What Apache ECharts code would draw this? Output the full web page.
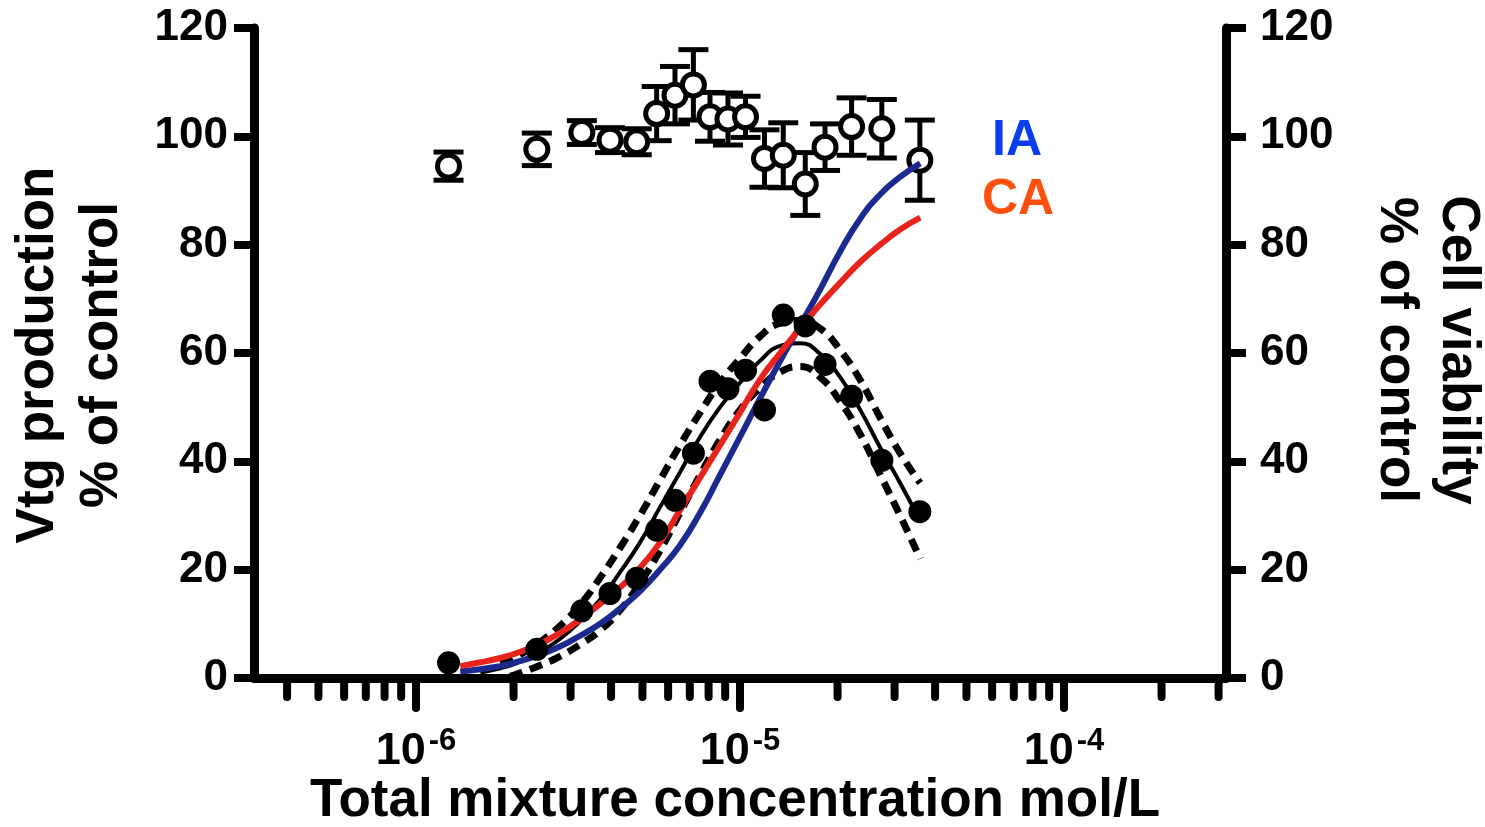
<!DOCTYPE html>
<html><head><meta charset="utf-8">
<script src="https://cdn.jsdelivr.net/npm/echarts@6/dist/echarts.min.js"></script>
<style>html,body{margin:0;padding:0;background:#fff}#c{width:1485px;height:827px}</style>
</head><body><div id="c"></div>
<script>
const FONT = '"Liberation Sans", Arial, Helvetica, sans-serif';

// measured concentrations (mol/L)
const mixConc = [1.26e-6, 2.36e-6, 3.25e-6, 3.97e-6, 4.80e-6, 5.53e-6, 6.30e-6, 7.18e-6, 8.08e-6,
                 9.18e-6, 1.04e-5, 1.19e-5, 1.36e-5, 1.59e-5, 1.83e-5, 2.21e-5, 2.74e-5, 3.59e-5];
// cell viability (open circles, right axis)
const viabMean = [94.5, 97.6, 100.7, 99.3, 99.0, 104.2, 107.6, 109.5, 103.6, 103.2, 103.6, 95.9, 96.5, 91.2, 98.0, 101.8, 101.4, 95.6];
const viabErr  = [2.6, 3.0, 2.2, 2.3, 2.4, 5.0, 5.3, 6.5, 4.5, 4.8, 3.8, 5.3, 6.0, 5.8, 4.3, 5.3, 5.4, 7.4];
// Vtg production (filled circles, left axis)
const vtgMean  = [2.8, 5.3, 12.4, 15.6, 18.4, 27.3, 32.8, 41.5, 54.8, 53.4, 56.8, 49.5, 67.0, 65.0, 57.9, 52.0, 40.2, 30.7];

// curves sampled along concentration
const curveConc = [1.37e-6, 1.58e-6, 1.82e-6, 1.95e-6, 2.09e-6, 2.41e-6, 2.78e-6, 3.21e-6, 3.70e-6, 4.26e-6,
                   4.91e-6, 5.66e-6, 6.53e-6, 7.53e-6, 8.68e-6, 1.00e-5, 1.15e-5, 1.33e-5, 1.53e-5, 1.77e-5,
                   2.04e-5, 2.35e-5, 2.71e-5, 3.12e-5, 3.60e-5];
const iaCurve  = [1.2, 1.6, 2.2, 2.6, 3.1, 4.3, 5.8, 7.8, 10.0, 12.8, 16.0, 20.0, 24.5, 30.5, 37.5, 44.5, 51.5, 58.5, 65.0, 71.8, 78.8, 84.8, 89.3, 92.5, 95.0];
const caCurve  = [2.2, 2.9, 3.7, 4.2, 4.8, 6.3, 8.3, 10.8, 13.7, 16.7, 20.3, 25.0, 31.0, 37.0, 43.0, 49.0, 55.0, 60.0, 64.5, 69.0, 73.0, 76.8, 80.0, 82.8, 85.0];
const fitCurve = [null, 1.0, 1.8, 2.3, 3.0, 4.8, 7.2, 10.5, 14.5, 19.5, 25.0, 31.5, 38.0, 44.5, 50.0, 54.5, 58.5, 61.3, 61.8, 59.8, 55.5, 49.5, 42.5, 36.0, 29.0];
const fitUpper = [null, null, 2.8, 3.5, 4.3, 6.6, 9.6, 13.5, 18.5, 24.0, 30.0, 36.5, 43.0, 49.0, 54.5, 59.0, 63.0, 65.5, 66.0, 64.5, 60.5, 55.0, 48.0, 41.5, 36.0];
const fitLower = [null, null, null, 0.3, 0.9, 2.3, 4.0, 6.2, 8.8, 12.5, 17.5, 23.5, 30.5, 37.5, 44.0, 49.5, 53.5, 56.5, 57.5, 55.5, 51.0, 45.0, 37.5, 30.0, 22.0];

// x axis ticks
const xMajorTicks = [1e-6, 1e-5, 1e-4];
const xMinorTicks = [4e-7, 5e-7, 6e-7, 7e-7, 8e-7, 9e-7,
                     2e-6, 3e-6, 4e-6, 5e-6, 6e-6, 7e-6, 8e-6, 9e-6,
                     2e-5, 3e-5, 4e-5, 5e-5, 6e-5, 7e-5, 8e-5, 9e-5,
                     2e-4, 3e-4];
const yTicks = [0, 20, 40, 60, 80, 100, 120];

const pair = (xs, ys) => xs.map((x, i) => [x, ys[i]]).filter(d => d[1] != null);

const chart = echarts.init(document.getElementById('c'), null, {renderer: 'canvas'});
const labelFont = {fontFamily: FONT, fontWeight: 'bold', color: '#000', fontSize: 44};
const yAxisBase = {
  type: 'value', min: yTicks[0], max: yTicks[yTicks.length - 1], interval: 20,
  axisLine: {show: true, onZero: false, lineStyle: {color: '#000', width: 9}},
  axisTick: {show: true, length: 20, lineStyle: {color: '#000', width: 8}},
  splitLine: {show: false}
};
const tickData = xMinorTicks.map(v => [v, 0, 0]).concat(xMajorTicks.map(v => [v, 0, 1]));
const dashStyle = {color: '#000', width: 7, type: [13, 8], cap: 'butt'};

chart.setOption({
  backgroundColor: '#fff',
  animation: false,
  grid: {left: 254, right: 259, top: 28, bottom: 149, containLabel: false},
  xAxis: {
    type: 'log', logBase: 10, min: Math.pow(10, -6.5), max: Math.pow(10, -3.5),
    axisLine: {show: true, onZero: false, lineStyle: {color: '#000', width: 9}},
    axisTick: {show: false}, minorTick: {show: false}, splitLine: {show: false},
    axisLabel: {
      margin: 48, showMinLabel: false, showMaxLabel: false,
      formatter: v => {
        const e = Math.log10(v), r = Math.round(e);
        if (Math.abs(e - r) > 1e-6) return '';
        return '{b|10}{s|' + r + '}';
      },
      rich: {
        b: {fontFamily: FONT, fontWeight: 'bold', color: '#000', fontSize: 45, lineHeight: 48, verticalAlign: 'bottom'},
        s: {fontFamily: FONT, fontWeight: 'bold', color: '#000', fontSize: 31, lineHeight: 32, verticalAlign: 'top', padding: [0, 0, 0, 3]}
      }
    }
  },
  yAxis: [
    Object.assign({}, yAxisBase, {position: 'left', axisLabel: Object.assign({margin: 26}, labelFont)}),
    Object.assign({}, yAxisBase, {position: 'right', axisLabel: Object.assign({margin: 34}, labelFont)})
  ],
  graphic: [
    {type: 'text', x: 38, y: 355, rotation: Math.PI / 2,
     style: {text: 'Vtg production', font: 'bold 53px ' + FONT, fill: '#000', align: 'center', verticalAlign: 'middle', textAlign: 'center', textVerticalAlign: 'middle'}},
    {type: 'text', x: 102, y: 355, rotation: Math.PI / 2,
     style: {text: '% of control', font: 'bold 53px ' + FONT, fill: '#000', align: 'center', verticalAlign: 'middle', textAlign: 'center', textVerticalAlign: 'middle'}},
    {type: 'text', x: 1458, y: 350, rotation: -Math.PI / 2,
     style: {text: 'Cell viability', font: 'bold 53px ' + FONT, fill: '#000', align: 'center', verticalAlign: 'middle', textAlign: 'center', textVerticalAlign: 'middle'}},
    {type: 'text', x: 1396, y: 350, rotation: -Math.PI / 2,
     style: {text: '% of control', font: 'bold 53px ' + FONT, fill: '#000', align: 'center', verticalAlign: 'middle', textAlign: 'center', textVerticalAlign: 'middle'}},
    {type: 'text', x: 735, y: 801,
     style: {text: 'Total mixture concentration mol/L', font: 'bold 53px ' + FONT, fill: '#000', align: 'center', verticalAlign: 'middle', textAlign: 'center', textVerticalAlign: 'middle'}},
    {type: 'text', x: 992, y: 141,
     style: {text: 'IA', font: 'bold 50px ' + FONT, fill: '#0a3cf0', align: 'left', verticalAlign: 'middle', textAlign: 'left', textVerticalAlign: 'middle'}},
    {type: 'text', x: 982, y: 200,
     style: {text: 'CA', font: 'bold 50px ' + FONT, fill: '#ff5010', align: 'left', verticalAlign: 'middle', textAlign: 'left', textVerticalAlign: 'middle'}}
  ],
  series: [
    {type: 'line', name: 'upper', data: pair(curveConc, fitUpper), smooth: true, symbol: 'none', z: 2, lineStyle: dashStyle},
    {type: 'line', name: 'lower', data: pair(curveConc, fitLower), smooth: true, symbol: 'none', z: 2, lineStyle: dashStyle},
    {type: 'line', name: 'fit', data: pair(curveConc, fitCurve), smooth: true, symbol: 'none', z: 2,
     lineStyle: {color: '#000', width: 4}},
    {type: 'custom', name: 'errbars', yAxisIndex: 1, z: 3,
     data: mixConc.map((x, i) => [x, viabMean[i], viabErr[i]]),
     encode: {x: 0, y: 1},
     renderItem: (params, api) => {
       const x = api.value(0), m = api.value(1), e = api.value(2);
       const t = api.coord([x, m + e]), b = api.coord([x, m - e]);
       const hw = 15, st = {stroke: '#000', lineWidth: 5};
       return {type: 'group', children: [
         {type: 'line', shape: {x1: t[0], y1: t[1], x2: b[0], y2: b[1]}, style: st},
         {type: 'line', shape: {x1: t[0] - hw, y1: t[1], x2: t[0] + hw, y2: t[1]}, style: st},
         {type: 'line', shape: {x1: b[0] - hw, y1: b[1], x2: b[0] + hw, y2: b[1]}, style: st}
       ]};
     }},
    {type: 'scatter', name: 'viability', yAxisIndex: 1, z: 4, data: pair(mixConc, viabMean),
     symbol: 'circle', symbolSize: 22, itemStyle: {color: '#fff', borderColor: '#000', borderWidth: 5, opacity: 1}},
    {type: 'line', name: 'IA', data: pair(curveConc, iaCurve), smooth: true, symbol: 'none', z: 5,
     lineStyle: {color: '#1c2a8f', width: 6}},
    {type: 'line', name: 'CA', data: pair(curveConc, caCurve), smooth: true, symbol: 'none', z: 5,
     lineStyle: {color: '#e8231b', width: 6}},
    {type: 'scatter', name: 'vtg', z: 6, data: pair(mixConc, vtgMean),
     symbol: 'circle', symbolSize: 23, itemStyle: {color: '#000', opacity: 1}},
    {type: 'custom', name: 'xticks', z: 7, clip: false, silent: true,
     data: tickData, encode: {x: 0, y: 1},
     renderItem: (params, api) => {
       const p = api.coord([api.value(0), api.value(1)]);
       const len = api.value(2) ? 30 : 19;
       return {type: 'line', shape: {x1: p[0], y1: p[1], x2: p[0], y2: p[1] + len},
               style: {stroke: '#000', lineWidth: 8, lineCap: 'round'}};
     }}
  ]
});
</script></body></html>
